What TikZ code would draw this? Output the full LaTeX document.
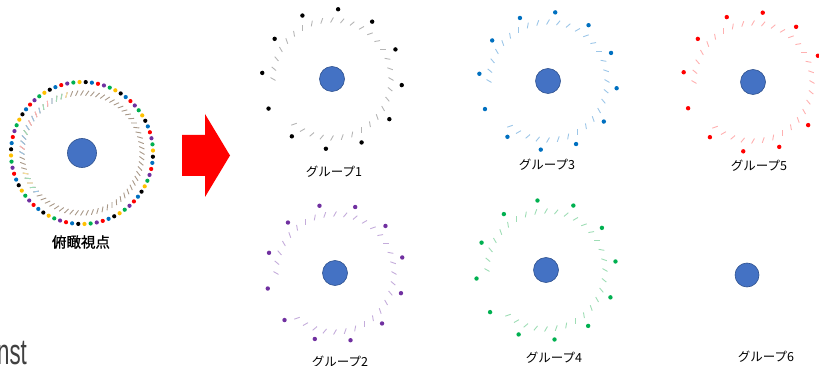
\documentclass[tikz,border=0pt]{standalone}
\usepackage{fontspec}
\newfontfamily\jpfont{Noto Sans CJK JP}
\newfontfamily\jpboldfont[FakeBold=1.2]{Noto Sans CJK JP}
\newfontfamily\latfont{Liberation Sans}
\usetikzlibrary{calc}
\definecolor{hubfill}{HTML}{4472C4}
\definecolor{hubline}{HTML}{2F528F}
\definecolor{gblack}{HTML}{000000}
\definecolor{gpurple}{HTML}{7030A0}
\definecolor{gblue}{HTML}{0070C0}
\definecolor{ggreen}{HTML}{00B050}
\definecolor{gred}{HTML}{FF0000}
\definecolor{gyellow}{HTML}{FFC000}
\definecolor{dgray}{HTML}{B5B5B5}
\definecolor{dpurple}{HTML}{C4ACDB}
\definecolor{dblue}{HTML}{9CC6E8}
\definecolor{dgreen}{HTML}{9EDDB5}
\definecolor{dred}{HTML}{FFB0B0}
\definecolor{dyellow}{HTML}{FFE39A}
\definecolor{dtan}{HTML}{A89888}
\newcommand\personring[4]{% center, start angle, radius, colour
  \foreach \k in {0,...,11} \fill[#4] ($(#1)+({#2-30*\k}:#3)$) circle (2.2);
}
\newcommand\swirlring[3]{% center, colour, radius
  \foreach \t in {0,10,...,180,230,240,...,350}
    \draw[swirl, #2, shift={(#1)}, rotate=\t] (#3-2.5,1.45) -- (#3+2.5,-1.45);
}
\tikzset{
  swirl/.style={line width=0.9pt},
  hub/.style={circle, fill=hubfill, draw=hubline, line width=0.6pt, inner sep=0pt, minimum size=25pt},
  glabel/.style={font=\jpfont\fontsize{12.5}{14}\selectfont, inner sep=0pt},
  arrowshape/.style={fill=gred, draw=none},
}
\begin{document}
\begin{tikzpicture}[x=1pt, y=1pt]
\useasboundingbox (0,0) rectangle (819,-366);
\clip (0,0) rectangle (819,-366);

% ---------- overview (left) ----------
\coordinate (c0) at (82,-153);
\foreach \t in {0,5,...,355}
  \draw[swirl, dtan, shift={(c0)}, rotate=\t] (57.5,1.5) -- (62.5,-1.5);
\foreach \t/\c in {105/dyellow,110/dgreen,115/dgreen,120/dblue,125/dred,130/dgreen,135/dblue,140/dred,145/dblue,150/dred,155/dblue,160/dgreen,165/dblue,170/dblue,175/dred,180/dblue,200/dyellow,205/dgreen,210/dyellow,215/dgreen,220/dblue}
  \draw[swirl, \c, shift={(c0)}, rotate=\t] (57.5,1.5) -- (62.5,-1.5);
\foreach \j in {0,...,11}
  \foreach \c [count=\i from 0] in {gyellow,gblack,gblue,gred,gpurple,ggreen}
    \fill[\c] ($(c0)+({92-30*\j-5*\i}:71)$) circle (2.1);
\node[hub, minimum size=29pt] (h0) at (c0) {};
\node[font=\jpboldfont\fontsize{14.5}{16}\selectfont, inner sep=0pt] (l0) at (81,-242) {俯瞰視点};

% ---------- arrow ----------
\fill[arrowshape] (182,-135) -- (205,-135) -- (205,-114) -- (230,-155.5) -- (205,-197) -- (205,-176) -- (182,-176) -- cycle;

% ---------- group 1 ----------
\coordinate (c1) at (332,-79);
\swirlring{c1}{dgray}{59}
\personring{c1}{85}{70}{gblack}
\node[hub] (h1) at (c1) {};
\node[glabel] (l1) at (334,-172) {グループ1};

% ---------- group 3 ----------
\coordinate (c3) at (548,-81);
\swirlring{c3}{dblue}{59}
\personring{c3}{84}{69}{gblue}
\node[hub] (h3) at (c3) {};
\node[glabel] (l3) at (547,-165) {グループ3};

% ---------- group 5 ----------
\coordinate (c5) at (753,-82);
\swirlring{c5}{dred}{59}
\personring{c5}{82}{70}{gred}
\node[hub] (h5) at (c5) {};
\node[glabel] (l5) at (759,-166) {グループ5};

% ---------- group 2 ----------
\coordinate (c2) at (335,-273);
\swirlring{c2}{dpurple}{59}
\personring{c2}{103}{69}{gpurple}
\node[hub] (h2) at (c2) {};
\node[glabel] (l2) at (340,-362) {グループ2};

% ---------- group 4 ----------
\coordinate (c4) at (546,-270);
\swirlring{c4}{dgreen}{59}
\personring{c4}{97}{70}{ggreen}
\node[hub] (h4) at (c4) {};
\node[glabel] (l4) at (554,-358) {グループ4};

% ---------- group 6 ----------
\node[hub, minimum size=24pt] (h6) at (747,-275) {};
\node[glabel] (l6) at (766,-357) {グループ6};

% ---------- cut-off text ----------
\node[font=\latfont\fontsize{36}{40}\selectfont, text=black!75, anchor=base west, inner sep=0pt, xscale=0.62] (frag) at (-3,-364) {nst};
\end{tikzpicture}
\end{document}
